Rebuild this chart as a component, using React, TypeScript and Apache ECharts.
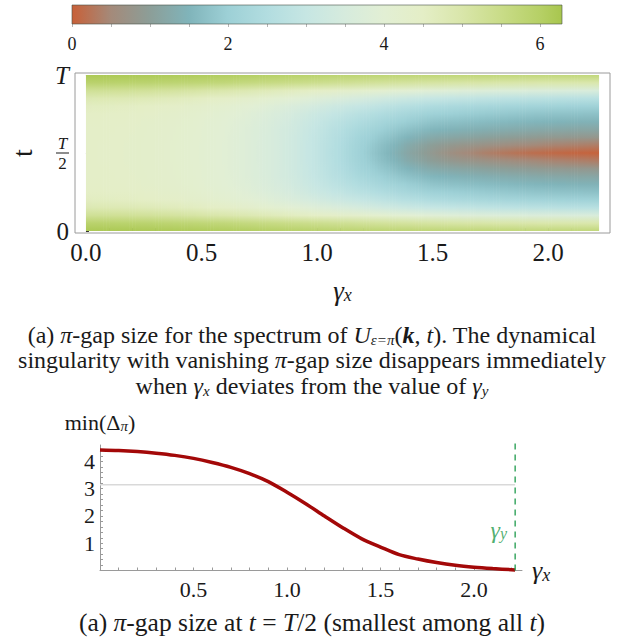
import React, { useEffect, useRef } from 'react';
import * as echarts from 'echarts';

const FONT = '"Liberation Serif", "Times New Roman", serif';

// ---- colour scale (value -> colour) ----
const scaleValues = [0, 0.5, 1, 1.5, 2, 2.5, 3, 3.5, 4, 4.5, 5, 5.5, 6, 6.2832];
const scaleColors = ['#c86038', '#a48a7a', '#8c9e98', '#80b4ba', '#9dd0d6', '#b2dde0', '#c6e6e3', '#d6ebdd', '#e2efd4', '#e4eec6', '#d9e6aa', '#c9dc88', '#b6d066', '#a8c64e'];
const colorbarMax = 6.2832;
const colorbarLabels = [0, 2, 4, 6];
const colorbarTicks = [0, 0.5, 1, 1.5, 2, 2.5, 3, 3.5, 4, 4.5, 5, 5.5, 6];

// ---- heat map: pi-gap size over (gamma_x, t); rows t/T = 0 .. 0.5 (symmetric about T/2) ----
const gammaCols = [0, 0.1, 0.2, 0.3, 0.4, 0.5, 0.6, 0.7, 0.8, 0.9, 1.0, 1.1, 1.2, 1.3, 1.4, 1.5, 1.6, 1.7, 1.8, 1.9, 2.0, 2.1, 2.2];
const tHalf = [0, 0.05, 0.1, 0.15, 0.2, 0.25, 0.3, 0.35, 0.4, 0.45, 0.5];
const gapHalf = [
  [6.20, 5.90, 5.30, 4.85, 4.60, 4.50, 4.46, 4.44, 4.43, 4.42, 4.42],
  [6.20, 5.90, 5.30, 4.83, 4.58, 4.48, 4.44, 4.42, 4.41, 4.40, 4.40],
  [6.20, 5.88, 5.27, 4.80, 4.54, 4.44, 4.40, 4.38, 4.37, 4.36, 4.36],
  [6.18, 5.85, 5.22, 4.74, 4.48, 4.38, 4.34, 4.32, 4.31, 4.30, 4.30],
  [6.15, 5.80, 5.15, 4.66, 4.40, 4.31, 4.26, 4.24, 4.23, 4.22, 4.22],
  [6.12, 5.75, 5.05, 4.56, 4.30, 4.20, 4.15, 4.13, 4.12, 4.11, 4.11],
  [6.08, 5.70, 4.95, 4.44, 4.17, 4.06, 4.00, 3.98, 3.97, 3.96, 3.96],
  [6.05, 5.62, 4.85, 4.30, 4.02, 3.89, 3.83, 3.80, 3.79, 3.78, 3.78],
  [6.00, 5.55, 4.72, 4.15, 3.84, 3.68, 3.61, 3.57, 3.56, 3.55, 3.55],
  [5.95, 5.48, 4.60, 3.98, 3.62, 3.44, 3.34, 3.29, 3.27, 3.26, 3.26],
  [5.90, 5.40, 4.48, 3.80, 3.38, 3.14, 3.01, 2.93, 2.89, 2.87, 2.87],
  [5.85, 5.32, 4.36, 3.62, 3.16, 2.88, 2.69, 2.57, 2.50, 2.46, 2.45],
  [5.82, 5.25, 4.24, 3.45, 2.95, 2.63, 2.41, 2.23, 2.10, 2.03, 2.00],
  [5.80, 5.20, 4.12, 3.28, 2.75, 2.41, 2.16, 1.95, 1.78, 1.63, 1.56],
  [5.78, 5.15, 4.00, 3.12, 2.58, 2.22, 1.96, 1.72, 1.48, 1.26, 1.16],
  [5.76, 5.10, 3.90, 3.00, 2.42, 2.05, 1.78, 1.53, 1.25, 0.98, 0.86],
  [5.75, 5.06, 3.82, 2.92, 2.34, 1.98, 1.71, 1.45, 1.16, 0.82, 0.58],
  [5.74, 5.03, 3.76, 2.85, 2.27, 1.92, 1.65, 1.38, 1.08, 0.72, 0.42],
  [5.72, 5.00, 3.72, 2.79, 2.21, 1.86, 1.59, 1.32, 1.00, 0.62, 0.29],
  [5.71, 4.98, 3.69, 2.74, 2.16, 1.81, 1.54, 1.27, 0.94, 0.53, 0.19],
  [5.70, 4.96, 3.66, 2.70, 2.12, 1.77, 1.50, 1.22, 0.88, 0.45, 0.12],
  [5.70, 4.95, 3.63, 2.67, 2.09, 1.75, 1.47, 1.19, 0.85, 0.40, 0.07],
  [5.70, 4.94, 3.60, 2.65, 2.07, 1.73, 1.45, 1.17, 0.82, 0.35, 0.03],
];
const gammaY = 2.22;
const heatXTicks = [0, 0.1, 0.2, 0.3, 0.4, 0.5, 0.6, 0.7, 0.8, 0.9, 1.0, 1.1, 1.2, 1.3, 1.4, 1.5, 1.6, 1.7, 1.8, 1.9, 2.0, 2.1, 2.2];
const heatXLabels = [0, 0.5, 1, 1.5, 2];
const heatYLabels = [0, 0.5, 1];

// ---- min gap at t = T/2 ----
const curveX = [0, 0.1, 0.2, 0.3, 0.4, 0.5, 0.6, 0.7, 0.8, 0.9, 1.0, 1.1, 1.2, 1.3, 1.4, 1.5, 1.6, 1.7, 1.8, 1.9, 2.0, 2.1, 2.2, 2.22];
const curveY = [4.42, 4.40, 4.36, 4.30, 4.22, 4.11, 3.96, 3.78, 3.55, 3.26, 2.87, 2.45, 2.00, 1.56, 1.16, 0.86, 0.58, 0.42, 0.29, 0.19, 0.12, 0.07, 0.03, 0.02];
const piLine = Math.PI;
const lineXTicks = [0.1, 0.2, 0.3, 0.4, 0.5, 0.6, 0.7, 0.8, 0.9, 1.0, 1.1, 1.2, 1.3, 1.4, 1.5, 1.6, 1.7, 1.8, 1.9, 2.0, 2.1, 2.2];
const lineXLabels = [0.5, 1, 1.5, 2];
const lineYTicks = [0.2, 0.4, 0.6, 0.8, 1, 1.2, 1.4, 1.6, 1.8, 2, 2.2, 2.4, 2.6, 2.8, 3, 3.2, 3.4, 3.6, 3.8, 4, 4.2, 4.4];
const lineYLabels = [1, 2, 3, 4];

// ---- captions ----
const caption1 = [
  '(a) {i|π}-gap size for the spectrum of {i|U}{sub|ε=π}({bi|k}, {i|t}). The dynamical',
  'singularity with vanishing {i|π}-gap size disappears immediately',
  'when {i|γ}{sub|x} deviates from the value of {i|γ}{sub|y}',
];
const caption2 = '(a) {i|π}-gap size at {i|t} = {i|T}/2 (smallest among all {i|t})';

function hexToRgb(h: string) {
  const n = parseInt(h.slice(1), 16);
  return [(n >> 16) & 255, (n >> 8) & 255, n & 255];
}
function colorOf(v: number) {
  if (v <= scaleValues[0]) return scaleColors[0];
  for (let i = 0; i < scaleValues.length - 1; i++) {
    if (v <= scaleValues[i + 1]) {
      const f = (v - scaleValues[i]) / (scaleValues[i + 1] - scaleValues[i]);
      const a = hexToRgb(scaleColors[i]);
      const b = hexToRgb(scaleColors[i + 1]);
      const c = a.map((x, k) => Math.round(x + (b[k] - x) * f));
      return `rgb(${c[0]},${c[1]},${c[2]})`;
    }
  }
  return scaleColors[scaleColors.length - 1];
}

const tFull = [...tHalf, ...tHalf.slice(0, -1).reverse().map((t) => 1 - t)];
function fullColumn(i: number) {
  const h = gapHalf[i];
  return [...h, ...h.slice(0, -1).reverse()];
}
// vertical gradient for a shaded strip lying a fraction f of the way from column i to column j
function stripFill(i: number, j: number, f: number) {
  const a = fullColumn(i);
  const b = fullColumn(j);
  const stops: any[] = [];
  for (let k = tFull.length - 1; k >= 0; k--) {
    stops.push({ offset: 1 - tFull[k], color: colorOf(a[k] * (1 - f) + b[k] * f) });
  }
  return new echarts.graphic.LinearGradient(0, 0, 0, 1, stops);
}

const txt = { fontFamily: FONT, color: '#1a1a1a' };
const SHADE_STEPS = 8;

export default function App() {
  const ref = useRef<HTMLDivElement>(null);
  useEffect(() => {
    const chart = echarts.init(ref.current!, null, { renderer: 'svg' });
    const option: any = {
      animation: false,
      backgroundColor: '#fff',
      grid: [
        { left: 72, top: 5, width: 490, height: 19 },
        { left: 73, top: 73, width: 537, height: 160, show: true, borderColor: '#9a9a9a', borderWidth: 1, backgroundColor: 'transparent' },
        { left: 100, top: 445, width: 422, height: 125.5 },
      ],
      xAxis: [
        {
          gridIndex: 0, type: 'value', min: 0, max: colorbarMax,
          axisLine: { show: false }, splitLine: { show: false },
          axisTick: { show: true, inside: false, length: 3, lineStyle: { color: '#b5b5b5' }, customValues: colorbarTicks },
          axisLabel: { customValues: colorbarLabels, fontSize: 18, margin: 11, ...txt },
        },
        {
          gridIndex: 1, type: 'value', min: -11 / 232, max: 526 / 232,
          axisLine: { show: false }, splitLine: { show: false },
          axisTick: { show: true, inside: true, length: 3, lineStyle: { color: '#333' }, customValues: heatXTicks },
          axisLabel: { customValues: heatXLabels, fontSize: 25, margin: 7, formatter: (v: number) => v.toFixed(1), ...txt },
          name: '{g|γ}{s|x}', nameLocation: 'middle', nameGap: 44,
          nameTextStyle: { rich: { g: { fontSize: 27, fontStyle: 'italic', fontFamily: FONT, color: '#1a1a1a' }, s: { fontSize: 18, fontStyle: 'italic', fontFamily: FONT, color: '#1a1a1a', verticalAlign: 'bottom', lineHeight: 14 } } },
        },
        {
          gridIndex: 2, type: 'value', min: 0, max: 422 / 187,
          axisLine: { show: true, onZero: false, lineStyle: { color: '#9a9a9a', width: 1 } }, splitLine: { show: false },
          axisTick: { show: true, inside: true, length: 3, lineStyle: { color: '#9a9a9a' }, customValues: lineXTicks },
          axisLabel: { customValues: lineXLabels, fontSize: 22, margin: 8, formatter: (v: number) => v.toFixed(1), ...txt },
          name: '{g|γ}{s|x}', nameLocation: 'end', nameGap: 10,
          nameTextStyle: { rich: { g: { fontSize: 26, fontStyle: 'italic', fontFamily: FONT, color: '#1a1a1a' }, s: { fontSize: 18, fontStyle: 'italic', fontFamily: FONT, color: '#1a1a1a', verticalAlign: 'bottom', lineHeight: 14 } } },
        },
      ],
      yAxis: [
        { gridIndex: 0, type: 'value', min: 0, max: 1, show: false },
        {
          gridIndex: 1, type: 'value', min: -2 / 156, max: 1 + 2 / 156,
          axisLine: { show: false }, splitLine: { show: false },
          axisTick: { show: true, inside: true, length: 3, lineStyle: { color: '#333' }, customValues: heatYLabels },
          axisLabel: {
            customValues: heatYLabels, margin: 6,
            formatter: (v: number) => (v === 0 ? '{n|0}' : v === 1 ? '{i|T}' : '{f|T}\n{bar| }\n{d|2}'),
            rich: {
              n: { fontSize: 25, fontFamily: FONT, color: '#1a1a1a' },
              i: { fontSize: 25, fontStyle: 'italic', fontFamily: FONT, color: '#1a1a1a' },
              f: { fontSize: 17, fontStyle: 'italic', fontFamily: FONT, color: '#1a1a1a', width: 13, align: 'center', lineHeight: 17 },
              bar: { fontSize: 1, width: 13, height: 1, lineHeight: 3, backgroundColor: '#1a1a1a' },
              d: { fontSize: 17, fontFamily: FONT, color: '#1a1a1a', width: 13, align: 'center', lineHeight: 17 },
            },
          },
          name: 't', nameLocation: 'middle', nameRotate: 90, nameGap: 39,
          nameTextStyle: { fontSize: 28, fontFamily: FONT, color: '#1a1a1a' },
        },
        {
          gridIndex: 2, type: 'value', min: 0, max: 4.6,
          axisLine: { show: true, onZero: false, lineStyle: { color: '#9a9a9a', width: 1 } }, splitLine: { show: false },
          axisTick: { show: true, inside: true, length: 3, lineStyle: { color: '#9a9a9a' }, customValues: lineYTicks },
          axisLabel: { customValues: lineYLabels, fontSize: 22, margin: 5, ...txt },
          name: 'min(Δ{s|π})', nameLocation: 'end', nameGap: 12,
          nameTextStyle: { fontSize: 22, fontFamily: FONT, color: '#1a1a1a', align: 'center', rich: { s: { fontSize: 15, fontStyle: 'italic', fontFamily: FONT, color: '#1a1a1a', verticalAlign: 'bottom', lineHeight: 12 } } },
        },
      ],
      series: [
        {
          type: 'custom', xAxisIndex: 0, yAxisIndex: 0, silent: true,
          data: [[0, colorbarMax]],
          renderItem: (params: any, api: any) => {
            const p0 = api.coord([api.value(0), 1]);
            const p1 = api.coord([api.value(1), 0]);
            const stops = scaleValues.map((v, k) => ({ offset: v / colorbarMax, color: scaleColors[k] }));
            return {
              type: 'rect',
              shape: { x: p0[0], y: p0[1], width: p1[0] - p0[0], height: p1[1] - p0[1] },
              style: { fill: new echarts.graphic.LinearGradient(0, 0, 1, 0, stops), stroke: 'rgba(70,80,70,0.75)', lineWidth: 0.8 },
            };
          },
        },
        {
          type: 'custom', xAxisIndex: 1, yAxisIndex: 1, silent: true, z: 1,
          data: gammaCols.map((g, i) => [g, i]),
          renderItem: (params: any, api: any) => {
            const i = api.value(1);
            const last = i === gammaCols.length - 1;
            const g0 = gammaCols[i];
            const g1 = last ? gammaY : gammaCols[i + 1];
            const children: any[] = [];
            const steps = last ? 1 : SHADE_STEPS;
            for (let s = 0; s < steps; s++) {
              const xa = g0 + ((g1 - g0) * s) / steps;
              const xb = g0 + ((g1 - g0) * (s + 1)) / steps;
              const pTop = api.coord([xa, 1]);
              const pBot = api.coord([xb, 0]);
              const f = last ? 0 : (s + 0.5) / steps;
              const extra = last && s === steps - 1 ? 0 : 0.6;
              children.push({
                type: 'rect',
                shape: { x: pTop[0], y: pTop[1], width: pBot[0] - pTop[0] + extra, height: pBot[1] - pTop[1] },
                style: { fill: stripFill(i, last ? i : i + 1, f) },
              });
            }
            return { type: 'group', children };
          },
        },
        {
          type: 'line', xAxisIndex: 2, yAxisIndex: 2, silent: true, symbol: 'none',
          data: [[0, piLine], [gammaY, piLine]],
          lineStyle: { color: '#d9d9d9', width: 1.5 },
        },
        {
          type: 'line', xAxisIndex: 2, yAxisIndex: 2, silent: true, symbol: 'none', smooth: 0.3,
          data: curveX.map((x, i) => [x, curveY[i]]),
          lineStyle: { color: '#a30808', width: 3.5 },
        },
        {
          type: 'line', xAxisIndex: 2, yAxisIndex: 2, silent: true, symbol: 'none', clip: false,
          data: [[gammaY, 0], [gammaY, 4.68]],
          lineStyle: { color: '#1f9a4c', width: 1.3, type: [6, 5] },
        },
        {
          type: 'scatter', xAxisIndex: 2, yAxisIndex: 2, silent: true, symbolSize: 0,
          data: [[gammaY, 1.5]],
          label: {
            show: true, position: 'left', distance: 8, formatter: '{g|γ}{s|y}',
            rich: {
              g: { fontSize: 24, fontStyle: 'italic', fontFamily: FONT, color: '#1f9a4c' },
              s: { fontSize: 16, fontStyle: 'italic', fontFamily: FONT, color: '#1f9a4c', verticalAlign: 'bottom', lineHeight: 12 },
            },
          },
        },
      ],
      graphic: [
        captionText(360, 24, 25.5, caption1.join('\n')),
        captionText(622, 25.5, 26, caption2),
      ],
    };
    chart.setOption(option);
    return () => chart.dispose();
  }, []);
  return <div ref={ref} style={{ position: 'absolute', left: 0, top: 0, width: 625, height: 639 }} />;
}

function captionText(y: number, size: number, lh: number, text: string) {
  const base = { fontSize: size, fontFamily: FONT, fill: '#1a1a1a', lineHeight: lh };
  return {
    type: 'text', x: 312, y, silent: true,
    style: {
      text, ...base, align: 'center', verticalAlign: 'middle',
      rich: {
        i: { ...base, fontStyle: 'italic' },
        bi: { ...base, fontStyle: 'italic', fontWeight: 'bold' },
        sub: { fontSize: Math.round(size * 0.64), fontFamily: FONT, fill: '#1a1a1a', fontStyle: 'italic', verticalAlign: 'bottom', lineHeight: 17 },
      },
    },
  };
}
